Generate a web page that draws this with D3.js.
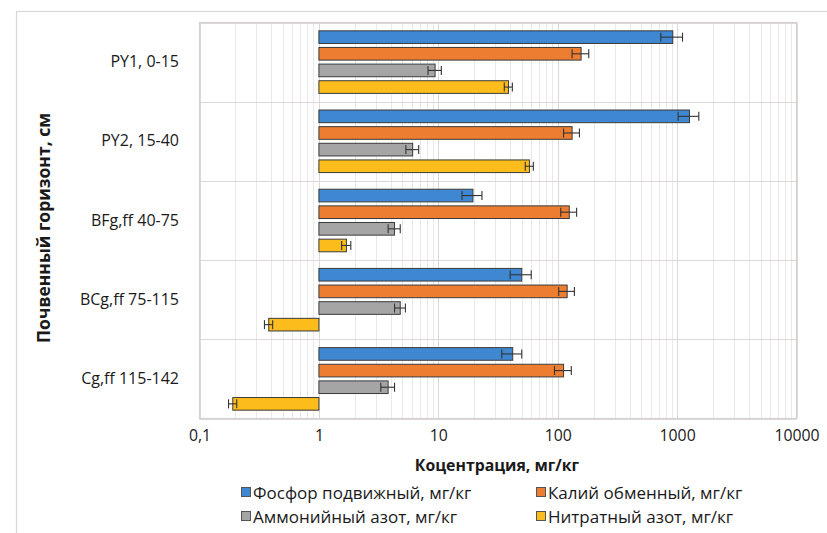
<!DOCTYPE html>
<html>
<head>
<meta charset="utf-8">
<script src="https://cdn.jsdelivr.net/npm/d3@7/dist/d3.min.js"></script>
<style>
  html, body { margin: 0; padding: 0; background: #fff; }
  svg { display: block; font-family: "Open Sans", "Noto Sans", sans-serif; }
</style>
</head>
<body>
<svg id="chart" width="827" height="533"></svg>
<script>
// Soil horizons (top to bottom)
const horizons = ["PY1, 0-15", "PY2, 15-40", "BFg,ff 40-75", "BCg,ff 75-115", "Cg,ff 115-142"];

// Series names
const seriesNames = [
  "Фосфор подвижный, мг/кг",
  "Калий обменный, мг/кг",
  "Аммонийный азот, мг/кг",
  "Нитратный азот, мг/кг"
];
const seriesColors = ["#3f87d0", "#ed7d31", "#a5a5a5", "#fbbc1c"];

// Mean values per horizon, mg/kg
const phosphorus = [920, 1270, 19.5, 50, 42];
const potassium  = [157, 132, 125, 120, 112];
const ammonium   = [9.4, 6.1, 4.3, 4.8, 3.8];
const nitrate    = [38.7, 58, 1.7, 0.38, 0.19];

// Error (± deviation) per horizon
const phosphorusErr = [190, 250, 3.7, 10, 8];
const potassiumErr  = [25, 20, 19, 18, 18];
const ammoniumErr   = [1.2, 0.75, 0.5, 0.5, 0.5];
const nitrateErr    = [3, 4.5, 0.15, 0.03, 0.015];

// Axis ticks
const xTicks = [0.1, 1, 10, 100, 1000, 10000];
const xTickLabels = ["0,1", "1", "10", "100", "1000", "10000"];

const values = [phosphorus, potassium, ammonium, nitrate];
const errors = [phosphorusErr, potassiumErr, ammoniumErr, nitrateErr];

const svg = d3.select("#chart");

// Outer chart frame
svg.append("rect")
  .attr("x", 16.5).attr("y", 11.5)
  .attr("width", 830).attr("height", 600)
  .attr("fill", "none").attr("stroke", "#d9d6d6").attr("stroke-width", 1.2);

const plot = { left: 199.5, right: 796.5, top: 22.5, bottom: 418.5 };

const x = d3.scaleLog().domain([0.1, 10000]).range([plot.left, plot.right]);
const y = d3.scaleBand().domain(horizons).range([plot.top, plot.bottom]).paddingInner(0).paddingOuter(0);
const inner = d3.scaleBand().domain(d3.range(4)).range([0, y.bandwidth()]).paddingInner(0.24).paddingOuter(0.5);

const g = svg.append("g");

// Vertical grid: minor lines then decades
const minor = [];
for (let e = -1; e < 4; e++) {
  for (let m = 2; m <= 9; m++) minor.push(m * Math.pow(10, e));
}
g.selectAll("line.minor").data(minor).join("line")
  .attr("x1", d => Math.round(x(d)) + 0.5).attr("x2", d => Math.round(x(d)) + 0.5)
  .attr("y1", plot.top).attr("y2", plot.bottom)
  .attr("stroke", "#ebe8e8").attr("stroke-width", 1);
g.selectAll("line.major").data(xTicks).join("line")
  .attr("x1", d => Math.round(x(d)) + 0.5).attr("x2", d => Math.round(x(d)) + 0.5)
  .attr("y1", plot.top).attr("y2", plot.bottom)
  .attr("stroke", "#dcd8d8").attr("stroke-width", 1);

// Horizontal separators between horizons
const seps = horizons.map(h => y(h)).concat([plot.bottom]);
g.selectAll("line.sep").data(seps).join("line")
  .attr("x1", plot.left).attr("x2", plot.right)
  .attr("y1", d => Math.round(d) + 0.5).attr("y2", d => Math.round(d) + 0.5)
  .attr("stroke", "#dcd8d8").attr("stroke-width", 1.2);

// Bars (anchored at 1 on the log axis)
const rows = [];
horizons.forEach((h, i) => {
  values.forEach((arr, s) => {
    rows.push({ h, s, v: arr[i], e: errors[s][i] });
  });
});

const bars = g.append("g");
bars.selectAll("rect").data(rows).join("rect")
  .attr("x", d => Math.min(x(1), x(d.v)))
  .attr("y", d => y(d.h) + inner(d.s))
  .attr("width", d => Math.abs(x(d.v) - x(1)))
  .attr("height", inner.bandwidth())
  .attr("fill", d => seriesColors[d.s])
  .attr("stroke", "#3b3b3b").attr("stroke-width", 1);

// Error bars
const eb = g.append("g").attr("stroke", "#333").attr("stroke-width", 1.1);
rows.forEach(d => {
  const cy = y(d.h) + inner(d.s) + inner.bandwidth() / 2;
  const x0 = x(d.v - d.e), x1 = x(d.v + d.e);
  eb.append("line").attr("x1", x0).attr("x2", x1).attr("y1", cy).attr("y2", cy);
  eb.append("line").attr("x1", x0).attr("x2", x0).attr("y1", cy - 4.5).attr("y2", cy + 4.5);
  eb.append("line").attr("x1", x1).attr("x2", x1).attr("y1", cy - 4.5).attr("y2", cy + 4.5);
});

// Plot frame
g.append("rect")
  .attr("x", plot.left).attr("y", plot.top)
  .attr("width", plot.right - plot.left).attr("height", plot.bottom - plot.top)
  .attr("fill", "none").attr("stroke", "#d6d2d2").attr("stroke-width", 1.2);

// X axis labels
const xAxis = d3.axisBottom(x).tickValues(xTicks)
  .tickFormat((d, i) => xTickLabels[i]).tickSize(0).tickPadding(0);
const xa = svg.append("g").attr("transform", `translate(0, ${plot.bottom + 11})`).call(xAxis);
xa.select(".domain").remove();
xa.selectAll("text").attr("font-size", 15.8).attr("fill", "#1a1a1a")
  .attr("font-family", "'Open Sans', sans-serif");

// Y axis labels
const yAxis = d3.axisLeft(y).tickSize(0).tickPadding(0);
const ya = svg.append("g").attr("transform", `translate(${179}, 0)`).call(yAxis);
ya.select(".domain").remove();
ya.selectAll("text").attr("font-size", 16).attr("fill", "#1a1a1a")
  .attr("font-family", "'Open Sans', sans-serif");

// Axis titles
svg.append("text")
  .attr("x", 497).attr("y", 471)
  .attr("text-anchor", "middle")
  .attr("font-size", 15.8).attr("font-weight", "bold").attr("fill", "#1a1a1a")
  .text("Коцентрация, мг/кг");

svg.append("text")
  .attr("transform", "translate(50, 228) rotate(-90)")
  .attr("text-anchor", "middle")
  .attr("font-size", 17.5).attr("font-weight", "bold").attr("fill", "#1a1a1a")
  .text("Почвенный горизонт, см");

// Legend: two columns, two rows
const legendPos = [
  { x: 241, y: 493 }, { x: 536, y: 493 },
  { x: 241, y: 517 }, { x: 536, y: 517 }
];
const legend = svg.append("g");
seriesNames.forEach((name, i) => {
  const p = legendPos[i];
  legend.append("rect")
    .attr("x", p.x + 0.5).attr("y", p.y - 5.5)
    .attr("width", 9).attr("height", 9)
    .attr("fill", seriesColors[i]).attr("stroke", "#555").attr("stroke-width", 1);
  legend.append("text")
    .attr("x", p.x + 12).attr("y", p.y)
    .attr("dy", "0.35em")
    .attr("font-size", 17).attr("fill", "#1a1a1a")
    .text(name);
});
</script>
</body>
</html>
